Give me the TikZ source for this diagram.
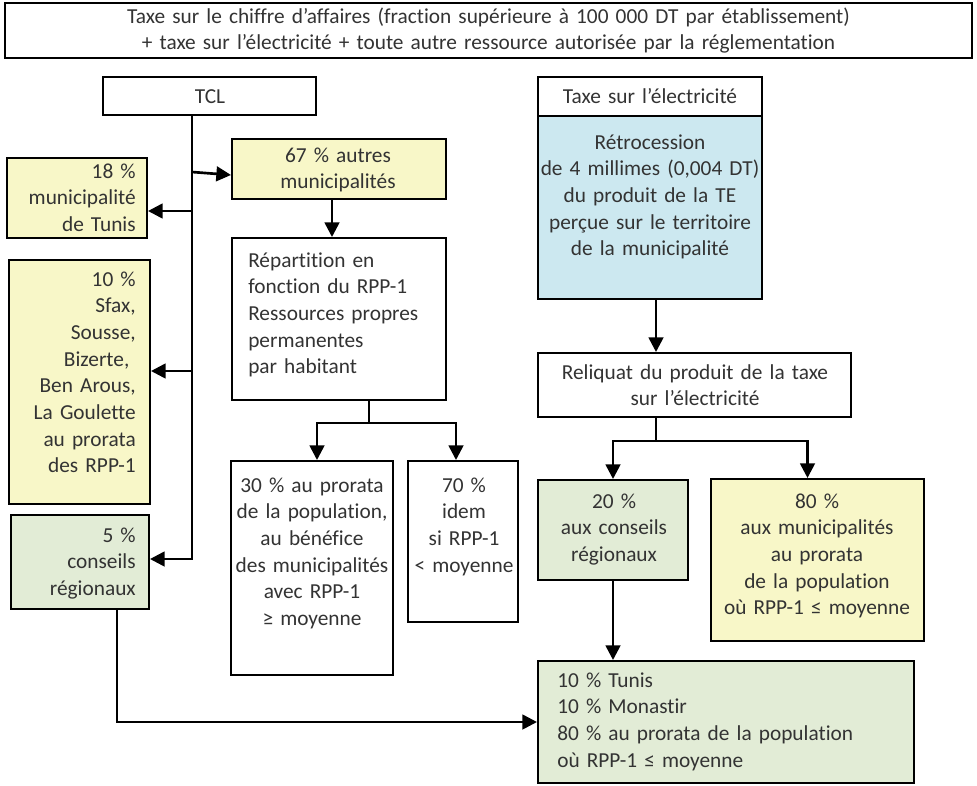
\documentclass[tikz,border=0pt]{standalone}
\usepackage{fontspec}
\setmainfont{Carlito}[Ligatures=NoCommon, WordSpace=0.9]
\usetikzlibrary{arrows.meta,fit}

\definecolor{ink}{HTML}{333333}
\definecolor{paleyellow}{HTML}{F8F7C8}
\definecolor{palegreen}{HTML}{E2ECD6}
\definecolor{paleblue}{HTML}{CCE8F0}

\tikzset{
  box/.style={draw=black, line width=1.5pt, inner sep=0pt, fill=white},
  yellowbox/.style={box, fill=paleyellow},
  greenbox/.style={box, fill=palegreen},
  bluebox/.style={box, fill=paleblue},
  link/.style={line width=2pt},
  conn/.style={link, -{Triangle[length=11pt,width=11pt]}},
  lbl/.style={inner sep=0pt, text=ink, text width=300pt,
              font=\fontsize{16}{20}\selectfont},
  lc/.style={lbl, align=center, anchor=base},
  lr/.style={lbl, align=right, anchor=base east},
  ll/.style={lbl, align=left, anchor=base west},
}

\begin{document}
\begin{tikzpicture}[x=0.75pt,y=-0.75pt]
\useasboundingbox (0,0) rectangle (977,785);

% ---------- boxes ----------
\node[box, fit={(5,3) (972,58)}] (head) {};
\node[box, fit={(103,77) (316,115)}] (tcl) {};
\node[yellowbox, fit={(7,158) (147,238)}] (b18) {};
\node[yellowbox, fit={(9,260) (150,504)}] (b10) {};
\node[greenbox, fit={(11,515) (149,609)}] (b5) {};
\node[yellowbox, fit={(232,139) (446,199)}] (b67) {};
\node[box, fit={(232,238) (446,400)}] (rep) {};
\node[box, fit={(231,461) (393,675)}] (b30) {};
\node[box, fit={(408,461) (518,622)}] (b70) {};
\node[box, fit={(538,77) (762,116)}] (te) {};
\node[bluebox, fit={(538,116) (762,299)}] (retro) {};
\node[box, fit={(538,353) (851,417)}] (rel) {};
\node[greenbox, fit={(538,480) (688,580)}] (b20) {};
\node[yellowbox, fit={(711,479) (924,641)}] (b80) {};
\node[greenbox, fit={(538,661) (914,783)}] (bot) {};

% ---------- texts ----------
\node[lc, text width=720pt] (headtxt) at (488.5,23)
  {Taxe sur le chiffre d’affaires (fraction supérieure à 100 000 DT par établissement)\\
   + taxe sur l’électricité + toute autre ressource autorisée par la réglementation};
\node[lc] (tcltxt) at (210,103) {TCL};
\node[lr] (t18) at (136,178) {18 \%\\municipalité\\de Tunis};
\node[lr] (t10) at (136,286)
  {10 \%\\Sfax,\\Sousse,\\Bizerte,\kern0.3em\\Ben Arous,\\La Goulette\\au prorata\\des RPP-1};
\node[lr] (t5) at (136,542) {5 \%\\conseils\\régionaux};
\node[lc] (t67) at (338,162) {67 \% autres\\municipalités};
\node[ll] (trep) at (248,267)
  {Répartition en\\fonction du RPP-1\\Ressources propres\\permanentes\\par habitant};
\node[lc] (t30) at (312,492)
  {30 \% au prorata\\de la population,\\au bénéfice\\des municipalités\\avec RPP-1\\≥ moyenne};
\node[lc] (t70) at (464,492) {70 \%\\idem\\si RPP-1\\< moyenne};
\node[lc] (tte) at (650,103) {Taxe sur l’électricité};
\node[lc] (tretro) at (650,149)
  {Rétrocession\\de 4 millimes (0,004 DT)\\du produit de la TE\\perçue sur le territoire\\de la municipalité};
\node[lc] (trel) at (695,379) {Reliquat du produit de la taxe\\sur l’électricité};
\node[lc] (t20) at (614,508) {20 \%\\aux conseils\\régionaux};
\node[lc] (t80) at (817,508)
  {80 \%\\aux municipalités\\au prorata\\de la population\\où RPP-1 ≤ moyenne};
\node[ll] (tbot) at (557,687)
  {10 \% Tunis\\10 \% Monastir\\80 \% au prorata de la population\\où RPP-1 ≤ moyenne};

% ---------- junction points ----------
\coordinate (j67) at (192,172);
\coordinate (j18) at (192,211);
\coordinate (j10) at (192,371);
\coordinate (jrep) at (369,423);
\coordinate (jrel) at (656,441);

% ---------- connectors: TCL ----------
\draw[conn] (tcl.south -| j67) |- ([yshift=2.25pt]b5.east);
\draw[conn] (j67) -- ([yshift=-4.5pt]b67.west);
\draw[conn] (j18) -- (j18 -| b18.east);
\draw[conn] (j10) -- (j10 -| b10.east);
\draw[conn] ([xshift=-5.25pt]b67.south) -- ([xshift=-5.25pt]b67.south |- rep.north);
\draw[link] (rep.south -| jrep) -- (jrep);
\draw[conn] (jrep) -| ([xshift=3.75pt]b30.north);
\draw[conn] (jrep) -| ([xshift=-5.25pt]b70.north);
\draw[conn] ([xshift=27.75pt]b5.south) |- (bot.west);

% ---------- connectors: electricity tax ----------
\draw[conn] ([xshift=4.5pt]retro.south) -- ([xshift=4.5pt]retro.south |- rel.north);
\draw[link] (rel.south -| jrel) -- (jrel);
\draw[conn] (jrel) -| (b20.north);
\draw[conn] (jrel) -| ([xshift=-7.5pt]b80.north);
\draw[conn] (b20.south) -- (b20.south |- bot.north);
\end{tikzpicture}
\end{document}
